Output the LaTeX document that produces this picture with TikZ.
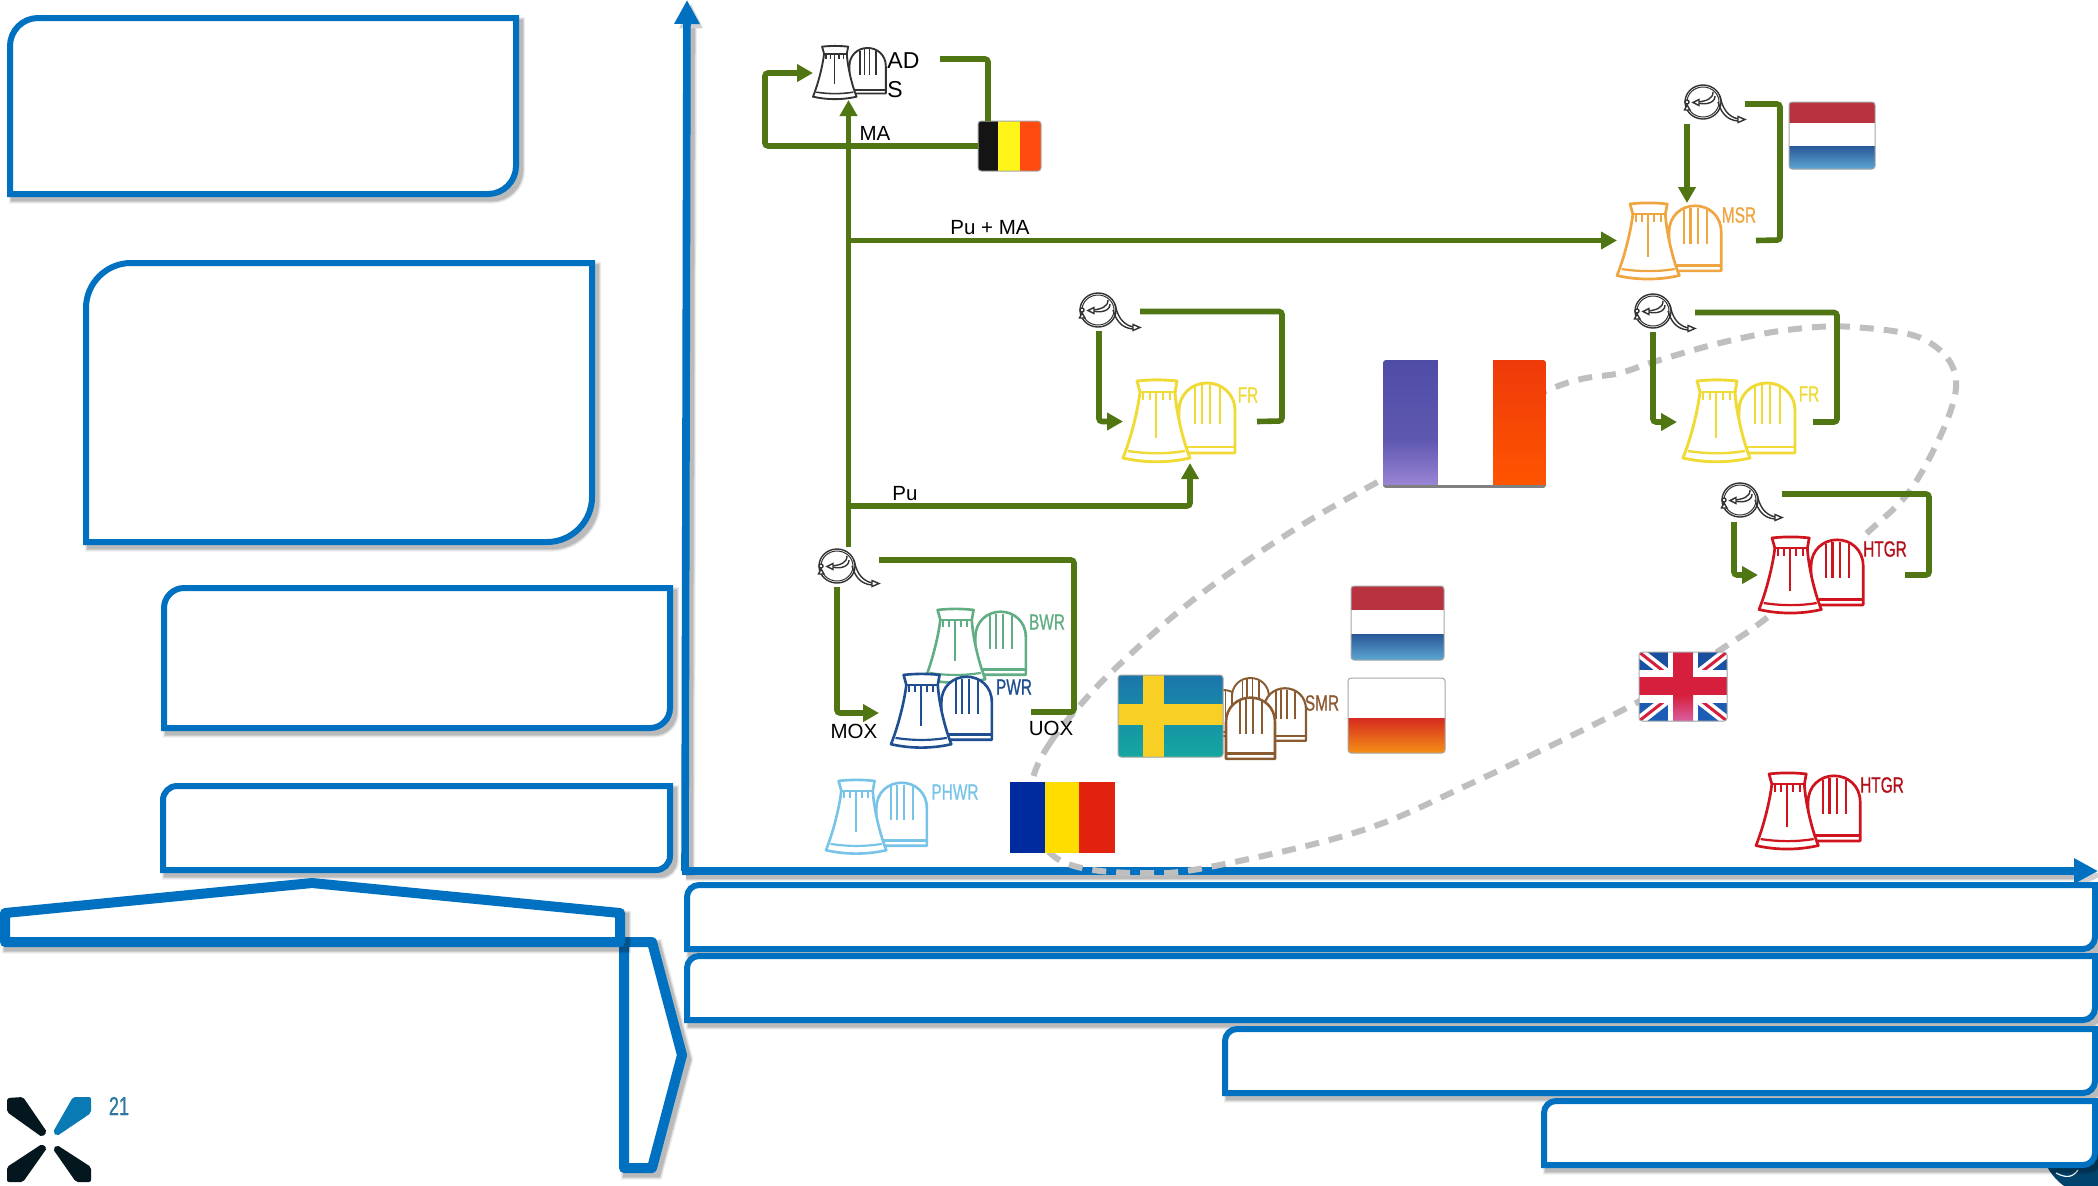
\documentclass[tikz,border=0pt]{standalone}
\usepackage{fontspec}
\setmainfont{Liberation Sans}
\newfontfamily\condf[FakeStretch=0.7,FakeBold=0.8]{Liberation Sans}
\usetikzlibrary{arrows.meta,calc}
\definecolor{bluemain}{HTML}{0070C0}
\definecolor{flowgreen}{HTML}{4F7612}
\definecolor{dashgray}{HTML}{BFBFBF}
\definecolor{bwrc}{HTML}{62AE84}
\definecolor{pwrc}{HTML}{1F4E91}
\definecolor{phwrc}{HTML}{78C4E8}
\definecolor{smrc}{HTML}{8A5A30}
\definecolor{msrc}{HTML}{EFA540}
\definecolor{frc}{HTML}{F0DA35}
\definecolor{htgrc}{HTML}{D0141E}
\definecolor{iconblack}{HTML}{333333}
\definecolor{darkdisc}{HTML}{00446E}
\definecolor{logodark}{HTML}{04171F}
\definecolor{logoblue}{HTML}{0A7AB5}
\definecolor{pagenum}{HTML}{2E75A0}
\definecolor{fy}{HTML}{FFF519}
\definecolor{fo}{HTML}{FF4A10}
\definecolor{nlr}{HTML}{B8323F}
\definecolor{nlb}{HTML}{2A5898}
\definecolor{nlc}{HTML}{5BA6D2}
\definecolor{frb}{HTML}{4F4CA6}
\definecolor{frm}{HTML}{5F58B0}
\definecolor{frl}{HTML}{9A85D5}
\definecolor{frr}{HTML}{EE3A0A}
\definecolor{frs}{HTML}{FF5500}
\definecolor{plr}{HTML}{D62B20}
\definecolor{plo}{HTML}{F59015}
\definecolor{seb}{HTML}{1B75AC}
\definecolor{set}{HTML}{14A8A0}
\definecolor{sey}{HTML}{F8CF25}
\definecolor{roB}{HTML}{002B9E}
\definecolor{roy}{HTML}{FFDD00}
\definecolor{ror}{HTML}{E0220F}
\definecolor{ukb}{HTML}{1A4E9E}
\definecolor{ukc}{HTML}{1C5FB8}
\definecolor{ukr}{HTML}{D61F3C}
\definecolor{ukp}{HTML}{D9609F}
\tikzset{
  softshadow/.style={
    preaction={draw=black,draw opacity=.07,line width=#1+2.2pt,transform canvas={shift={(2pt,-2.2pt)}}},
    preaction={draw=black,draw opacity=.10,line width=#1+1pt,transform canvas={shift={(2pt,-2.2pt)}}},
    preaction={draw=black,draw opacity=.12,line width=#1,transform canvas={shift={(2pt,-2.2pt)}}}},
  bluebox/.style={draw=bluemain,fill=white,line width=3pt,softshadow=3pt},
  bluepent/.style={draw=bluemain,fill=white,line width=5pt,line join=round,softshadow=5pt},
  axisline/.style={draw=bluemain,line width=3.8pt,-{Triangle[length=12pt,width=12pt]}},
  tipshadow/.style={fill=black,fill opacity=.18,transform canvas={shift={(2pt,-2.2pt)}}},
  flow/.style={draw=flowgreen,line width=2.8pt,rounded corners=1.5pt},
  flowarrow/.style={flow,-{Triangle[length=8pt,width=8.5pt]}},
  imgframe/.style={inner sep=0pt,outer sep=0pt,draw=none},
  txt/.style={inner sep=0pt,font=\fontsize{10.25}{12}\selectfont,text=black},
  rlabel/.style={inner sep=0pt,font=\condf\fontsize{11}{12}\selectfont},
  ellipsedash/.style={draw=dashgray,line width=3pt,dash pattern=on 7pt off 5pt},
}
\newcommand{\iconbox}[6][]{%
  \node[imgframe,#1,minimum width={(#4-#2)*0.5pt},minimum height={(#5-#3)*0.5pt}] (#6) at ({(#2+#4)/2},{(#3+#5)/2}) {};}
\newcommand{\diagbox}[6][bluebox]{%
  \draw[#1] ({#2+#6},#3) -- (#4,#3) -- (#4,{#5-#6})
    .. controls (#4,{#5-.45*#6}) and ({#4-.45*#6},#5) .. ({#4-#6},#5)
    -- (#2,#5) -- (#2,{#3+#6})
    .. controls (#2,{#3+.45*#6}) and ({#2+.45*#6},#3) .. cycle;}
\newcommand{\domeshape}[2]{%
  \draw[#1,fill=white,line width=#2] (56,73) -- (56,31) .. controls (56,14) and (69,3) .. (84,3)
     .. controls (99,3) and (112,14) .. (112,31) -- (112,73) -- cycle;
  \draw[#1,line width=#2] (57,67) -- (112,67);
  \draw[#1,line width=.8*#2] (72,7) -- (72,44) (79,5) -- (79,44) (87,5) -- (87,44) (97,7) -- (97,44);}
\newcommand{\reactoricon}[4]{%
  \begin{scope}[shift={(#1,#2)},scale=#3,line join=round]
    \domeshape{#4}{1.45pt*#3}
    \draw[#4,fill=white,line width=1.45pt*#3] (14,1) .. controls (28,-.5) and (40,-.5) .. (54,1) -- (52,12)
       .. controls (53,30) and (59,58) .. (67,78) .. controls (45,83) and (22,83) .. (0,78)
       .. controls (8,58) and (15,30) .. (17,12) -- cycle;
    \draw[#4,line width=1.2pt*#3] (17,12) -- (52,12);
    \draw[#4,line width=1.2pt*#3] (5,71) .. controls (25,74) and (43,74) .. (62,71);
    \draw[#4,line width=1pt*#3] (20,12) -- (20,20) (27,12) -- (27,20) (40,12) -- (40,20) (47,12) -- (47,20) (33,12) -- (33,58);
  \end{scope}}
\newcommand{\smalldome}[4]{%
  \begin{scope}[shift={(#1,#2)},scale=#3,line join=round]\domeshape{#4}{1.45pt*#3}\end{scope}}
\newcommand{\recycleicon}[2]{%
  \begin{scope}[shift={(#1,#2)},line width=.7pt]
    \draw[iconblack] (19,18) circle [x radius=18,y radius=17];
    \draw[iconblack,line width=.5pt] (19,18) circle [x radius=16,y radius=15];
    \draw[iconblack] (36,12) .. controls (38,22) and (42,32) .. (54,35);
    \draw[iconblack] (34,18) .. controls (37,28) and (42,36) .. (54,37);
    \draw[iconblack,fill=white] (54,32.5) -- (61,35.5) -- (54,38.5) -- cycle;
    \draw[iconblack] (31,12) .. controls (31,19) and (22,21) .. (14,19);
    \draw[iconblack] (29,8) .. controls (29,15) and (22,17) .. (14,18);
    \draw[iconblack,fill=white] (9,18.5) -- (15,15.5) -- (15,21.5) -- cycle;
    \draw[iconblack,fill=white] (3,18) circle [radius=2];
    \draw[iconblack,fill=white] (3,21) -- (6,26) -- (0.5,26) -- cycle;
  \end{scope}}
\newcommand{\flagframe}[5][gray!70]{%
  \draw[#1,line width=.5pt,rounded corners=1.5pt] (#2,#3) rectangle (#4,#5);}
\newcommand{\flagclip}[4]{\clip[rounded corners=1.5pt] (#1,#2) rectangle (#3,#4);}
\newcommand{\band}[6]{\shade[top color=#5,bottom color=#6] (#1,#2) rectangle (#3,#4);}
\begin{document}
\begin{tikzpicture}[x=.5pt,y=-.5pt]
\useasboundingbox (0,0) rectangle (2098,1185);
\fill[white] (0,0) rectangle (2098,1185);
% disc peeking out at the bottom right
\begin{scope}
  \clip (2000,1150) rectangle (2098,1185);
  \fill[darkdisc] (2098,1139) circle [radius=58];
  \draw[white,line width=.6pt] (2056,1173) .. controls (2066,1178) and (2072,1178) .. (2078,1170);
\end{scope}
% left boxes
\diagbox{10}{18}{516}{194}{28}
\diagbox{86}{263}{592}{542}{45}
\diagbox{164}{588}{670}{728}{20}
\diagbox{163}{786}{670}{870}{14}
% axes
\coordinate (xorigin) at (685,871);
\coordinate (xstart) at (682,871);
\coordinate (ytip) at (687,0);
\coordinate (xtip) at (2098,871);
\coordinate (yneck) at (687,24);
\coordinate (xneck) at (2074,871);
\path[softshadow=3.8pt] (xorigin) -- (yneck);
\path[softshadow=3.8pt] (xstart) -- (xneck);
\fill[tipshadow] (ytip) -- (675,24) -- (699,24) -- cycle;
\fill[tipshadow] (xtip) -- (2074,859) -- (2074,883) -- cycle;
\draw[axisline] (xorigin) -- (ytip);
\draw[axisline] (xstart) -- (xtip);
% bottom bars
\diagbox{687}{885}{2095}{949}{12}
\diagbox{687}{956}{2095}{1020}{12}
\diagbox{1225}{1029}{2095}{1093}{12}
\diagbox{1544}{1101}{2095}{1165}{12}
% pentagons
\draw[bluepent] (624,942) -- (652,942) -- (682,1055) -- (652,1168) -- (624,1168) -- cycle;
\draw[bluepent] (5,913) -- (312,883) -- (620,913) -- (620,942) -- (5,942) -- cycle;
% logo
\fill[logodark,rounded corners=1pt] (7,1098) -- (23,1097) -- (47,1132) -- (42,1137) -- (7,1112) -- cycle;
\fill[logoblue,rounded corners=1pt] (73,1097) -- (91,1097) -- (91,1113) -- (57,1136) -- (53,1132) -- cycle;
\fill[logodark,rounded corners=1pt] (42,1144) -- (47,1148) -- (23,1182) -- (7,1182) -- (7,1167) -- cycle;
\fill[logodark,rounded corners=1pt] (57,1145) -- (91,1167) -- (91,1182) -- (76,1182) -- (53,1149) -- cycle;
\node[inner sep=0pt,font=\condf\fontsize{13}{14}\selectfont,text=pagenum] (pageno) at (119,1106) {21};
% dashed ellipse
\draw[ellipsedash] plot[smooth cycle,tension=.6] coordinates {(1033,778) (1050,743) (1082,703) (1121,663) (1193,600) (1289,533) (1383,479) (1546,391) (1620,373) (1653,362) (1720,343) (1787,330) (1853,327) (1927,341) (1956,388) (1917,480) (1867,533) (1773,613) (1720,650) (1638,702) (1472,783) (1357,832) (1204,868) (1139,873) (1082,868) (1050,853) (1030,820)};
% reactors
\iconbox{813}{46}{940}{100}{ads}
\reactoricon{813}{46}{.65}{iconblack}
\iconbox{925}{609}{1074}{683}{bwr}
\reactoricon{925}{609}{.9}{bwrc}
\iconbox{891}{674}{1031}{749}{pwr}
\reactoricon{891}{674}{.9}{pwrc}
\iconbox{826}{780}{990}{853}{phwr}
\reactoricon{826}{780}{.9}{phwrc}
\iconbox{1123}{380}{1257}{463}{fra}
\reactoricon{1123}{380}{1}{frc}
\iconbox{1677}{380}{1813}{464}{frz}
\reactoricon{1683}{380}{1}{frc}
\iconbox{1617}{203}{1756}{278}{msr}
\reactoricon{1617}{203}{.93}{msrc}
\iconbox[fill=white]{1758}{537}{1905}{613}{htga}
\reactoricon{1759}{537}{.93}{htgrc}
\iconbox{1756}{773}{1903}{849}{htgb}
\reactoricon{1756}{773}{.93}{htgrc}
% SMR cluster
\smalldome{1168}{688}{.66}{smrc}
\smalldome{1195}{676}{.66}{smrc}
\smalldome{1222}{686}{.75}{smrc}
\smalldome{1177}{695}{.875}{smrc}
% recycling icons
\iconbox{818}{547}{879}{587}{rca}
\recycleicon{818}{548}
\iconbox{1079}{292}{1140}{331}{rcb}
\recycleicon{1079}{292}
\iconbox{1634}{293}{1695}{332}{rcc}
\recycleicon{1634}{293}
\iconbox{1683}{84}{1745}{124}{rcd}
\recycleicon{1684}{84}
\iconbox{1720}{482}{1782}{522}{rce}
\recycleicon{1721}{482}
% flags
\iconbox{978}{121}{1041}{171}{bel}
\begin{scope}
  \flagclip{978}{121}{1041}{171}
  \fill[black!92] (978,121) rectangle (998,171);
  \fill[fy] (998,121) rectangle (1020,171);
  \fill[fo] (1020,121) rectangle (1041,171);
\end{scope}
\flagframe{978}{121}{1041}{171}
\iconbox{1789}{102}{1875}{169}{nla}
\begin{scope}
  \flagclip{1789}{102}{1875}{169}
  \fill[nlr] (1789,102) rectangle (1875,123);
  \fill[white] (1789,123) rectangle (1875,146);
  \band{1789}{146}{1875}{169}{nlb}{nlc}
\end{scope}
\flagframe{1789}{102}{1875}{169}
\iconbox{1351}{586}{1444}{660}{nlz}
\begin{scope}
  \flagclip{1351}{586}{1444}{660}
  \fill[nlr] (1351,586) rectangle (1444,610);
  \fill[white] (1351,610) rectangle (1444,634);
  \band{1351}{634}{1444}{660}{nlb}{nlc}
\end{scope}
\flagframe{1351}{586}{1444}{660}
\iconbox{1348}{678}{1445}{753}{pol}
\begin{scope}
  \flagclip{1348}{678}{1445}{753}
  \fill[white] (1348,678) rectangle (1445,718);
  \band{1348}{718}{1445}{753}{plr}{plo}
\end{scope}
\flagframe{1348}{678}{1445}{753}
\iconbox{1383}{360}{1546}{488}{fraflag}
\begin{scope}
  \flagclip{1383}{360}{1546}{488}
  \band{1383}{360}{1438}{440}{frb}{frm}
  \band{1383}{440}{1438}{485}{frm}{frl}
  \fill[white] (1438,360) rectangle (1493,485);
  \band{1493}{360}{1546}{485}{frr}{frs}
  \fill[gray] (1383,485) rectangle (1546,488);
\end{scope}
\iconbox{1118}{675}{1223}{757}{swe}
\begin{scope}
  \flagclip{1118}{675}{1223}{757}
  \band{1118}{675}{1223}{757}{seb}{set}
  \fill[sey] (1143,675) rectangle (1164,757);
  \fill[sey] (1118,704) rectangle (1223,725);
\end{scope}
\flagframe{1118}{675}{1223}{757}
\iconbox{1010}{782}{1115}{853}{rom}
\fill[roB] (1010,782) rectangle (1045,853);
\fill[roy] (1045,782) rectangle (1079,853);
\fill[ror] (1079,782) rectangle (1115,853);
\iconbox{1639}{652}{1727}{721}{ukf}
\begin{scope}
  \flagclip{1639}{652}{1727}{721}
  \band{1639}{652}{1727}{721}{ukb}{ukc}
  \draw[white,line width=5pt] (1639,652) -- (1727,721) (1639,721) -- (1727,652);
  \draw[ukr,line width=1.5pt] (1639,652) -- (1727,721) (1639,721) -- (1727,652);
  \fill[white] (1668,652) rectangle (1698,721);
  \fill[white] (1639,670) rectangle (1727,703);
  \fill[ukr] (1639,677) rectangle (1727,695);
  \fill[ukr] (1673,652) rectangle (1693,695);
  \band{1673}{695}{1693}{721}{ukr}{ukp}
\end{scope}
\flagframe{1639}{652}{1727}{721}
% connectors
\coordinate (adsloop) at (765,146);
\coordinate (adsout) at ($(ads.north east)+(0,13)$);
\coordinate (belin) at ($(bel.north west)+(10,0)$);
\draw[flowarrow] (bel.west) -- (adsloop) |- (ads.west);
\draw[flow] (adsout) -| (belin);
\draw[flowarrow] (rca.north) -- (rca.north |- ads.south);
\coordinate (msrfork) at (rca.north |- msr.west);
\draw[flowarrow] (msrfork) -- (msr.west);
\coordinate (pucorner) at (1190,506);
\coordinate (pufork) at (rca.north |- pucorner);
\draw[flowarrow] (pufork) -- (pucorner) -- (pucorner |- fra.south);
\coordinate (rcaout) at ($(rca.north east)+(0,13)$);
\coordinate (uoxcorner) at (1074,712);
\coordinate (pwrin) at (pwr.east |- uoxcorner);
\draw[flow] (rcaout) -| (uoxcorner) -- (pwrin);
\coordinate (rcadown) at ($(rca.south west)+(19,0)$);
\coordinate (moxend) at (879,713);
\draw[flowarrow] (rcadown) |- (moxend);
\coordinate (rcbdown) at ($(rcb.south west)+(20,0)$);
\coordinate (fraloop) at (1282,421);
\draw[flowarrow] (rcbdown) |- (fra.west);
\draw[flow] (rcb.east) -| (fraloop) -- (fra.east);
\coordinate (rccdown) at ($(rcc.south west)+(19,0)$);
\coordinate (frzloop) at (1837,422);
\draw[flowarrow] (rccdown) |- (frz.west);
\draw[flow] (rcc.east) -| (frzloop) -- (frz.east);
\coordinate (rcddown) at ($(rcd.south west)+(4,0)$);
\coordinate (msrloop) at (1780,240);
\draw[flowarrow] (rcddown) -- (rcddown |- msr.north);
\draw[flow] (rcd.east) -| (msrloop) -- (msr.east);
\coordinate (rcedown) at ($(rce.south west)+(14,0)$);
\coordinate (rceout) at ($(rce.north east)+(0,12)$);
\coordinate (htgloop) at (1929,575);
\draw[flowarrow] (rcedown) |- (htga.west);
\draw[flow] (rceout) -| (htgloop) -- (htga.east);
% reactor labels
\node[rlabel,text=bwrc] (bwrl) at (1047,622) {BWR};
\node[rlabel,text=pwrc] (pwrl) at (1014,687) {PWR};
\node[rlabel,text=phwrc] (phwrl) at (955,792) {PHWR};
\node[rlabel,text=smrc] (smrl) at (1322,703) {SMR};
\node[rlabel,text=msrc] (msrl) at (1739,215) {MSR};
\node[rlabel,text=frc] (fral) at (1248,395) {FR};
\node[rlabel,text=frc] (frzl) at (1809,394) {FR};
\node[rlabel,text=htgrc!85!black] (htgal) at (1885,549) {HTGR};
\node[rlabel,text=htgrc!85!black] (htgbl) at (1882,785) {HTGR};
% flow labels
\node[inner sep=0pt,anchor=west,align=left,font=\fontsize{11.5}{14.5}\selectfont] (adsl) at (887,75) {AD\\S};
\node[txt] (mal) at (875,133) {MA};
\node[txt] (pumal) at (990,228) {Pu + MA};
\node[txt] (pul) at (905,494) {Pu};
\node[txt] (moxl) at (854,731) {MOX};
\node[txt] (uoxl) at (1051,728) {UOX};
\end{tikzpicture}
\end{document}
